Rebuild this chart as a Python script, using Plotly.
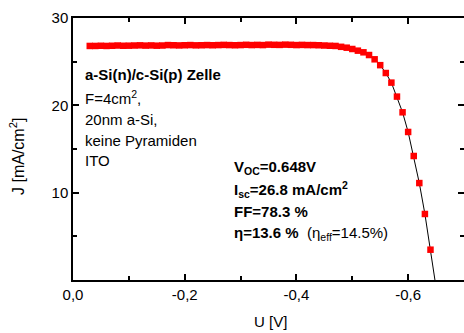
import plotly.graph_objects as go

# ---- data ----
voltage = [round(-0.03 - 0.01 * i, 2) for i in range(62)]
current_density = [
    26.80, 26.80, 26.82, 26.80, 26.82, 26.85, 26.82, 26.83, 26.85, 26.87,
    26.84, 26.86, 26.83, 26.85, 26.90, 26.88, 26.86, 26.88, 26.90, 26.87,
    26.88, 26.90, 26.88, 26.90, 26.92, 26.90, 26.88, 26.90, 26.93, 26.90,
    26.92, 26.90, 26.95, 26.93, 26.92, 26.95, 26.93, 26.90, 26.92, 26.90,
    26.90, 26.88, 26.85, 26.82,
    26.80, 26.70, 26.60, 26.45, 26.26, 26.07, 25.76, 25.27, 24.60, 23.70,
    22.60, 21.00, 19.20, 16.95, 14.20, 11.10, 7.56, 3.47,
]
fit_voltage = voltage[40:] + [-0.648]
fit_current = current_density[40:] + [0.0]

x_tickvals = [0, -0.2, -0.4, -0.6]
x_ticktext = ["0,0", "-0,2", "-0,4", "-0,6"]
x_minor = [-0.1, -0.3, -0.5, -0.7]
y_tickvals = [10, 20, 30]
y_ticktext = ["10", "20", "30"]
y_minor = [5, 15, 25]

FONT = "Liberation Sans, Arial, sans-serif"
W, H = 464, 333
L, R, T, B = 73, 0, 18, 53
PW, PH = W - L - R, H - T - B


def px(x):
    return (x - L) / PW


def py(y):
    return (H - B - y) / PH


fig = go.Figure()
fig.add_trace(go.Scatter(
    x=fit_voltage, y=fit_current, mode="lines",
    line=dict(color="black", width=1),
    showlegend=False, hoverinfo="skip"))
fig.add_trace(go.Scatter(
    x=voltage, y=current_density, mode="markers",
    marker=dict(symbol="square", size=6.5, color="#ff0000", line=dict(width=0)),
    xaxis="x2", yaxis="y2", showlegend=False))

axis_common = dict(ticks="inside", ticklen=6, tickwidth=1.5, tickcolor="black",
                   showgrid=False, zeroline=False,
                   tickfont=dict(family=FONT, size=15, color="black"))

fig.update_layout(
    width=W, height=H,
    margin=dict(l=L, r=R, t=T, b=B, pad=0),
    paper_bgcolor="white", plot_bgcolor="white",
    xaxis=dict(range=[0, -0.7], tickmode="array", tickvals=x_tickvals, ticktext=x_ticktext,
               showline=True, linecolor="black", linewidth=1.5,
               minor=dict(tickmode="array", tickvals=x_minor, ticks="inside", ticklen=4,
                          tickwidth=1.5, tickcolor="black", showgrid=False),
               **axis_common),
    yaxis=dict(range=[0, 30], tickmode="array", tickvals=y_tickvals, ticktext=y_ticktext,
               showline=True, linecolor="black", linewidth=1.5,
               minor=dict(tickmode="array", tickvals=y_minor, ticks="inside", ticklen=4,
                          tickwidth=1.5, tickcolor="black", showgrid=False),
               **axis_common),
    xaxis2=dict(overlaying="x", side="top", matches="x", tickmode="array",
                tickvals=x_tickvals, showticklabels=False,
                showline=True, linecolor="black", linewidth=1.5,
                minor=dict(tickmode="array", tickvals=x_minor, ticks="inside", ticklen=4,
                           tickwidth=1.5, tickcolor="black", showgrid=False),
                **axis_common),
    yaxis2=dict(overlaying="y", side="right", matches="y", tickmode="array",
                tickvals=y_tickvals, showticklabels=False, showline=False,
                minor=dict(tickmode="array", tickvals=y_minor, ticks="inside", ticklen=4,
                           tickwidth=1.5, tickcolor="black", showgrid=False),
                **axis_common),
)


def note(text, x, y, size=15, xanchor="left", angle=0):
    fig.add_annotation(text=text, x=px(x), y=py(y), xref="paper", yref="paper",
                       xanchor=xanchor, yanchor="middle", showarrow=False,
                       textangle=angle, font=dict(family=FONT, size=size, color="black"))


# block 1
note("<b>a-Si(n)/c-Si(p) Zelle</b>", 83, 74.5)
note("F=4cm<sup>2</sup>,", 83, 97.5)
note("20nm a-Si,", 83, 119.5)
note("keine Pyramiden", 83, 140.5)
note("ITO", 83, 160.5)

# block 2
note("<b>V<sub>OC</sub>=0.648V</b>", 232, 167)
note("<b>I<sub>sc</sub>=26.8 mA/cm<sup>2</sup></b>", 232, 189)
note("<b>FF=78.3 %</b>", 232, 211)
note("<b>η=13.6 %</b>  (η<sub>eff</sub>=14.5%)", 232, 233)

# axis titles
note("J [mA/cm<sup>2</sup>]", 17, 157, size=16, xanchor="center", angle=-90)
note("U [V]", 270, 321, xanchor="center")

fig.write_html("out.html", config={"displayModeBar": False},
               post_script="document.body.style.margin='0';"
               "document.body.style.overflow='hidden';")
